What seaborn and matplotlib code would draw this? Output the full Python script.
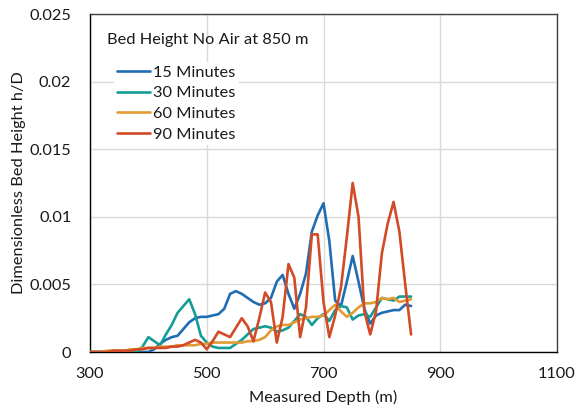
import numpy as np
import pandas as pd
import matplotlib
matplotlib.use("Agg")
import matplotlib.pyplot as plt
import seaborn as sns

depth = list(range(300, 851, 10))

blue_15 = [0, 0, 0, 0, 0, 0, 0, 0, 0, 0, 0,
           0.0002, 0.0006, 0.0009, 0.0011, 0.0012, 0.0017, 0.0022, 0.0025, 0.0026, 0.0026,
           0.0027, 0.0028, 0.0032, 0.0043, 0.0045, 0.0043, 0.0040, 0.0037, 0.0035, 0.0036,
           0.0040, 0.0052, 0.0057, 0.0043, 0.0032, 0.0043, 0.0058, 0.0089, 0.0101, 0.0110,
           0.0082, 0.0038, 0.0034, 0.0052, 0.0071, 0.0052, 0.0032, 0.0021, 0.0027, 0.0029,
           0.0030, 0.0031, 0.0031, 0.0035, 0.0034]

teal_30 = [0, 0, 0, 0, 0, 0, 0, 0, 0, 0.0004, 0.0011,
           0.0008, 0.0005, 0.0013, 0.0020, 0.0029, 0.0034, 0.0039, 0.0028, 0.0012, 0.0007,
           0.0004, 0.0003, 0.0003, 0.0003, 0.0006, 0.0009, 0.0013, 0.0017, 0.0018, 0.0019,
           0.0018, 0.0015, 0.0016, 0.0018, 0.0023, 0.0028, 0.0026, 0.0020, 0.0025, 0.0028,
           0.0023, 0.0031, 0.0034, 0.0033, 0.0024, 0.0027, 0.0028, 0.0026, 0.0033, 0.0040,
           0.0039, 0.0038, 0.0041, 0.0041, 0.0041]

orange_60 = [0, 0, 0, 0.0001, 0.0001, 0.0001, 0.0001, 0.0002, 0.0002, 0.0003, 0.0003,
             0.0003, 0.0004, 0.0004, 0.0004, 0.0005, 0.0005, 0.0005, 0.0005, 0.0006, 0.0006,
             0.0007, 0.0007, 0.0007, 0.0007, 0.0007, 0.0007, 0.0008, 0.0008, 0.0009, 0.0011,
             0.0016, 0.0019, 0.0020, 0.0020, 0.0022, 0.0024, 0.0025, 0.0026, 0.0026, 0.0027,
             0.0031, 0.0035, 0.0030, 0.0026, 0.0029, 0.0033, 0.0036, 0.0036, 0.0037, 0.0040,
             0.0039, 0.0040, 0.0037, 0.0038, 0.0039]

red_90 = [0, 0, 0, 0, 0.0001, 0.0001, 0.0001, 0.0001, 0.0002, 0.0002, 0.0003,
          0.0003, 0.0003, 0.0003, 0.0004, 0.0004, 0.0005, 0.0007, 0.0009, 0.0007, 0.0002,
          0.0008, 0.0015, 0.0013, 0.0011, 0.0018, 0.0025, 0.0019, 0.0008, 0.0025, 0.0044,
          0.0037, 0.0007, 0.0026, 0.0065, 0.0055, 0.0011, 0.0033, 0.0087, 0.0087, 0.0037,
          0.0011, 0.0027, 0.0048, 0.0085, 0.0125, 0.0100, 0.0030, 0.0013, 0.0030, 0.0073,
          0.0095, 0.0111, 0.0089, 0.0050, 0.0013]

series_names = ["15 Minutes", "30 Minutes", "60 Minutes", "90 Minutes"]
x_ticks = [300, 500, 700, 900, 1100]
y_ticks = [0, 0.005, 0.01, 0.015, 0.02, 0.025]
y_tick_labels = ["0", "0.005", "0.01", "0.015", "0.02", "0.025"]

df = pd.concat([
    pd.DataFrame({"depth": depth, "h": vals, "series": name})
    for name, vals in zip(series_names, [blue_15, teal_30, orange_60, red_90])
], ignore_index=True)

palette = {"15 Minutes": "#1f6db3", "30 Minutes": "#149c96",
           "60 Minutes": "#e29a33", "90 Minutes": "#d24a26"}

sns.set_style("white")
plt.rcParams["font.family"] = ["Lato", "DejaVu Sans"]
FS = 11.8

fig = plt.figure(figsize=(5.85, 4.17), dpi=100)
ax = fig.add_axes([90/585, 65/417, 467/585, 338/417])

sns.lineplot(data=df, x="depth", y="h", hue="series", palette=palette,
             linewidth=1.9, ax=ax, legend=True, zorder=3)

ax.set_xlim(300, 1100)
ax.set_ylim(0, 0.025)
ax.set_xticks(x_ticks)
ax.set_yticks(y_ticks)
ax.set_yticklabels(y_tick_labels)
ax.grid(True, color="#d9d9d9", linewidth=1.0, zorder=0)
ax.set_axisbelow(True)
for s in ax.spines.values():
    s.set_color("#404040")
    s.set_linewidth(1.0)
ax.spines["left"].set_color("#000000")
ax.spines["bottom"].set_color("#000000")
ax.tick_params(axis="both", direction="inout", length=5, width=1.0,
               colors="#000000", labelsize=FS, labelcolor="#1a1a1a")
ax.tick_params(axis="x", pad=8, top=False)
ax.tick_params(axis="y", pad=11, right=False)

ax.set_xlabel("Measured Depth (m)", fontsize=FS, color="#1a1a1a", labelpad=7)
ax.set_ylabel("Dimensionless Bed Height h/D", fontsize=FS, color="#1a1a1a", labelpad=2.5)

ax.text((107-90)/467, (352-40)/338, "Bed Height No Air at 850 m", transform=ax.transAxes,
        ha="left", va="center", fontsize=FS, color="#1a1a1a")

handles, labels = ax.get_legend_handles_labels()
leg = ax.legend(handles, labels, loc="upper left",
                bbox_to_anchor=((114-90)/467, (352-62)/338),
                frameon=True, facecolor="white", edgecolor="none", framealpha=1,
                fontsize=FS, handlelength=2.0, handletextpad=0.2,
                labelspacing=0.38, borderpad=0.2, borderaxespad=0)
for t in leg.get_texts():
    t.set_color("#1a1a1a")

fig.savefig("out.png", dpi=100)
